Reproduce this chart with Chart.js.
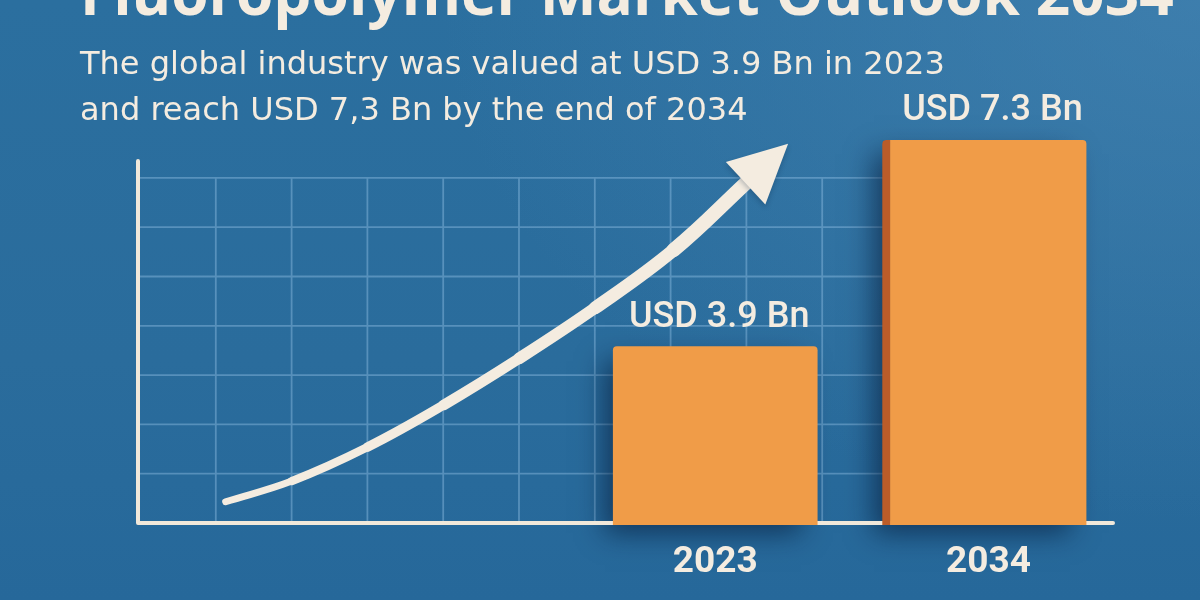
<!DOCTYPE html>
<html lang="en">
<head>
<meta charset="utf-8">
<title>Fluoropolymer Market Outlook 2034</title>
<script src="https://cdn.jsdelivr.net/npm/chart.js@4.4.1/dist/chart.umd.min.js"></script>
<style>
  html, body { margin: 0; padding: 0; }
  body {
    width: 1200px; height: 600px; overflow: hidden; position: relative;
    background:
      radial-gradient(ellipse 760px 520px at 1200px 0px, rgba(76,138,184,0.55), rgba(76,138,184,0) 100%),
      linear-gradient(180deg, #2b6f9f 0%, #2a6c9c 60%, #26689a 100%);
  }
  #chartBox, #texts { position: absolute; left: 0; top: 0; width: 1200px; height: 600px; }
  #texts { overflow: hidden; pointer-events: none; }
  #texts text { fill: #f4ece0; }
  #title { font-family: 'Open Sans', sans-serif; font-weight: 700; font-size: 56px; }
  .sub { font-family: 'DejaVu Sans', sans-serif; font-weight: 400; font-size: 28px; }
</style>
</head>
<body>
<div id="chartBox"><canvas id="marketChart" width="1200" height="600"></canvas></div>
<svg id="texts" width="1200" height="600" xmlns="http://www.w3.org/2000/svg">
  <text id="title" x="80" y="15">Fluoropolymer Market Outlook 2034</text>
  <text id="sub1" class="sub" x="80" y="74">The global industry was valued at USD 3.9 Bn in 2023</text>
  <text id="sub2" class="sub" x="80" y="120">and reach USD 7,3 Bn by the end of 2034</text>
  <text id="foot" class="sub" x="80" y="626">and is projected to grow at a CAGR of 5.9% from 2024 to 2034</text>
</svg>
<script>
// data
const years = [2023, 2034];
const marketValues = [3.9, 7.3];
const valueLabels = ['USD 3.9 Bn', 'USD 7.3 Bn'];
// growth arrow
const trendYears = [2003.0, 2005.7, 2008.8, 2011.9, 2015.0, 2018.1, 2021.3, 2024.3];
const trendValues = [1.35, 1.69, 2.25, 2.94, 3.71, 4.54, 5.49, 6.61];

const cream = '#f4ece0';

// scale an svg text line so it spans a given width
function fitWidth(id, width) {
  const el = document.getElementById(id);
  const size = parseFloat(getComputedStyle(el).fontSize);
  const next = size * width / el.getComputedTextLength();
  el.style.fontSize = next + 'px';
  return next;
}
fitWidth('title', 1094);
const subSize = fitWidth('sub1', 865);
['sub2', 'foot'].forEach((id) => { document.getElementById(id).style.fontSize = subSize + 'px'; });

function sideWidth(bar) {
  const bw = bar.options.borderWidth;
  return typeof bw === 'object' ? (bw.left || 0) : 0;
}

// blueprint grid, axis lines, shadows, arrow head and labels
const blueprint = {
  id: 'blueprint',
  beforeDatasetsDraw(chart, args, o) {
    const { ctx, chartArea: a } = chart;
    const gridTop = a.bottom - o.rows * o.cellH;
    const gridRight = a.left + o.cols * o.cellW;
    ctx.save();
    ctx.strokeStyle = o.gridColor;
    ctx.lineWidth = 1.8;
    ctx.beginPath();
    for (let i = 1; i <= o.cols; i++) {
      const x = a.left + i * o.cellW;
      ctx.moveTo(x, gridTop); ctx.lineTo(x, a.bottom);
    }
    for (let j = 1; j <= o.rows; j++) {
      const y = a.bottom - j * o.cellH;
      ctx.moveTo(a.left, y); ctx.lineTo(gridRight, y);
    }
    ctx.stroke();

    chart.getDatasetMeta(1).data.forEach((bar) => {
      const { x, y, width } = bar.getProps(['x', 'y', 'width'], true);
      ctx.save();
      ctx.shadowColor = 'rgba(4,22,50,0.6)';
      ctx.shadowBlur = 26;
      ctx.shadowOffsetX = -12;
      ctx.shadowOffsetY = 10;
      ctx.fillStyle = '#1c4c74';
      ctx.fillRect(x - width / 2 + 4, y + 4, width - 8, a.bottom - y - 4);
      ctx.restore();
    });

    ctx.strokeStyle = o.axisColor;
    ctx.lineWidth = 4;
    ctx.lineCap = 'round';
    ctx.lineJoin = 'round';
    ctx.beginPath();
    ctx.moveTo(a.left - 2, gridTop - o.axisOver);
    ctx.lineTo(a.left - 2, a.bottom);
    ctx.lineTo(a.right, a.bottom);
    ctx.stroke();
    ctx.restore();
  },
  afterDatasetsDraw(chart) {
    const { ctx, chartArea: a } = chart;
    // arrow head at the end of the trend line
    const pts = chart.getDatasetMeta(0).data;
    const p = pts[pts.length - 1];
    const q = pts[pts.length - 2];
    let dx = p.x - p.cp1x, dy = p.y - p.cp1y;
    if (!isFinite(dx) || Math.hypot(dx, dy) < 1) { dx = p.x - q.x; dy = p.y - q.y; }
    const len = Math.hypot(dx, dy);
    dx /= len; dy /= len;
    const nx = -dy, ny = dx;
    ctx.save();
    ctx.shadowColor = 'rgba(8,30,60,0.25)';
    ctx.shadowBlur = 5;
    ctx.shadowOffsetY = 3;
    ctx.fillStyle = cream;
    ctx.beginPath();
    ctx.moveTo(p.x + dx * 56, p.y + dy * 56);
    ctx.lineTo(p.x + nx * 29 - dx * 2, p.y + ny * 29 - dy * 2);
    ctx.lineTo(p.x - nx * 29 - dx * 2, p.y - ny * 29 - dy * 2);
    ctx.closePath();
    ctx.fill();
    ctx.restore();

    // value labels above the bars, years below the axis
    ctx.save();
    ctx.fillStyle = cream;
    ctx.textAlign = 'center';
    ctx.textBaseline = 'alphabetic';
    chart.getDatasetMeta(1).data.forEach((bar, i) => {
      const cx = bar.x + sideWidth(bar) / 2;
      ctx.font = '500 36px Roboto, sans-serif';
      ctx.fillText(valueLabels[i], cx + 4, bar.y - 20);
      ctx.font = '700 37px Roboto, sans-serif';
      ctx.fillText(String(years[i]), cx, a.bottom + 49);
    });
    ctx.restore();
  }
};

new Chart(document.getElementById('marketChart'), {
  type: 'bar',
  data: {
    datasets: [
      {
        type: 'line',
        label: 'Growth',
        data: trendYears.map((x, i) => ({ x, y: trendValues[i] })),
        borderColor: cream,
        borderWidth: 10,
        borderCapStyle: 'round',
        borderJoinStyle: 'round',
        tension: 0.4,
        pointRadius: 0,
        fill: false,
        segment: { borderWidth: (c) => 7 + c.p0DataIndex * 1.2 }
      },
      {
        type: 'bar',
        label: 'Market size (USD Bn)',
        data: years.map((x, i) => ({ x, y: marketValues[i] })),
        backgroundColor: '#f09c48',
        borderColor: '#bb5c29',
        borderWidth: [0, { left: 8, top: 0, right: 0, bottom: 0 }],
        borderSkipped: false,
        borderRadius: 4,
        barThickness: 204,
        clip: 2
      }
    ]
  },
  options: {
    responsive: false,
    animation: false,
    layout: { padding: { left: 140, right: 87, top: 140, bottom: 77 } },
    scales: {
      x: { type: 'linear', offset: false, min: 1999.5, max: 2039.25, display: false },
      y: { min: 1, max: 7.3, display: false }
    },
    plugins: {
      legend: { display: false },
      tooltip: { enabled: false },
      blueprint: { rows: 7, cols: 10, cellW: 75.8, cellH: 49.3, axisOver: 17, gridColor: 'rgba(150,196,232,0.42)', axisColor: '#f1e8da' }
    }
  },
  plugins: [blueprint]
});
</script>
</body>
</html>
